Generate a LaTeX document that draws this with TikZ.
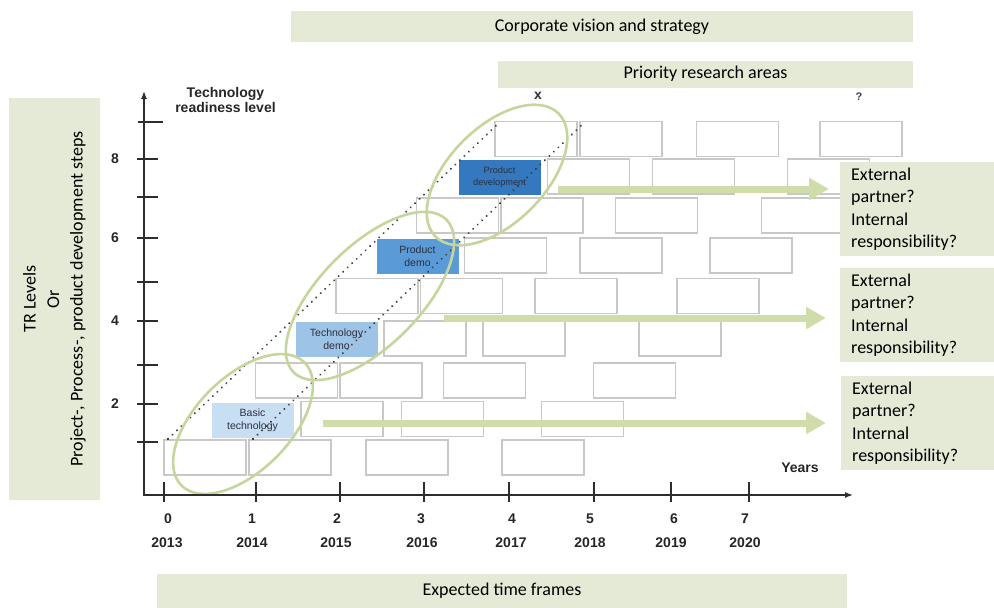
\documentclass[tikz,border=0pt]{standalone}
\usepackage{fontspec}
\setmainfont{Carlito}
\newfontfamily\arialf{Liberation Sans}
\usetikzlibrary{arrows.meta}
\definecolor{bannerc}{RGB}{228,234,214}
\definecolor{garrow}{RGB}{207,221,170}
\definecolor{gell}{RGB}{196,214,155}
\definecolor{boxline}{RGB}{200,200,200}
\definecolor{btc}{RGB}{200,222,243}
\definecolor{tdc}{RGB}{157,195,230}
\definecolor{pdmc}{RGB}{90,154,214}
\definecolor{pdvc}{RGB}{52,120,192}
\definecolor{axisc}{RGB}{45,45,45}
\definecolor{dotc}{RGB}{60,60,60}
\definecolor{btext}{RGB}{45,48,60}
\begin{document}
\begin{tikzpicture}[x=1pt,y=-1pt,
  gbox/.style={draw=boxline, line width=1.2pt, fill=white, minimum width=82pt, minimum height=35pt, inner sep=0pt},
  bbox/.style={minimum width=82pt, minimum height=35pt, inner sep=0pt, font=\arialf\fontsize{10.5}{13}\selectfont, text=btext, align=center},
  bannerbox/.style={fill=bannerc, inner sep=0pt, font=\fontsize{18}{22}\selectfont},
  sidepanel/.style={fill=bannerc, anchor=north west, minimum width=154pt, minimum height=94pt, inner xsep=11pt, inner ysep=0pt, text width=132pt, align=left, font=\fontsize{18}{22.3}\selectfont},
  dotline/.style={dotc, line width=2.2pt, line cap=round, dash pattern=on 0.01pt off 6.2pt},
  ell/.style={draw=gell, line width=2.6pt},
  garr/.style={garrow, line width=7pt, -{Triangle[length=20pt,width=21pt]}},
  axisline/.style={axisc, line width=1.4pt},
  tickline/.style={axisc, line width=1.4pt},
  axlab/.style={font=\arialf\bfseries\fontsize{14}{15}\selectfont, text=black!85},
  ]
\useasboundingbox (0,0) rectangle (994,608);

% grey boxes
\foreach \n/\cx/\cy in {
  a1/536/139, a2/621/139, a3/737.5/139, a4/861/139,
  b2/588.5/176.5, b3/693.5/176.5, b4/828.5/176.5,
  c1/457.5/215.5, c2/542/215.5, c3/656.5/215.5, c4/802.5/215.5,
  d2/505.5/255.5, d3/621/255.5, d4/751/255.5,
  e1/377/296, e2/461.5/296, e3/576/296, e4/718/296,
  f2/425/338.5, f3/524/338.5, f4/680/338.5,
  g1/296.5/380.5, g2/381/380.5, g3/484.5/380.5, g4/634.5/380.5,
  h2/342/419, h3/442.5/419, h4/582.5/419,
  i1/205/457.5, i2/290/457.5, i3/407/457.5, i4/543/457.5}
  \node[gbox] (\n) at (\cx,\cy) {};

% coloured step boxes
\node[bbox, fill=btc] (basic) at (252.5,420) {Basic\\technology};
\node[bbox, fill=tdc] (tdemo) at (336.5,339.5) {Technology\\demo};
\node[bbox, fill=pdmc] (pdemo) at (417.5,256.5) {Product\\demo};
\node[bbox, fill=pdvc, font=\arialf\fontsize{9.2}{12}\selectfont] (pdev) at (499.5,177) {Product\\development};

% dotted guide lines
\coordinate (d1s) at (168,439);
\coordinate (d1e) at (500,122);
\coordinate (d2s) at (253,439);
\coordinate (d2e) at (585,122);
\draw[dotline] (d1s) -- (d1e);
\draw[dotline] (d2s) -- (d2e);

% ellipses
\coordinate (e1c) at (243,424);
\coordinate (e2c) at (370,296);
\coordinate (e3c) at (497,175);
\draw[ell, rotate around={45:(e1c)}] (e1c) ellipse [x radius=87pt, y radius=47pt];
\draw[ell, rotate around={45:(e2c)}] (e2c) ellipse [x radius=108pt, y radius=50pt];
\draw[ell, rotate around={45:(e3c)}] (e3c) ellipse [x radius=87pt, y radius=48pt];

% green arrows
\coordinate (a1s) at (558,189);
\coordinate (a1e) at (829,189);
\coordinate (a2s) at (444,318);
\coordinate (a2e) at (826,318);
\coordinate (a3s) at (323,423);
\coordinate (a3e) at (826,423);
\draw[garr] (a1s) -- (a1e);
\draw[garr] (a2s) -- (a2e);
\draw[garr] (a3s) -- (a3e);

% banners
\node[bannerbox, minimum width=622pt, minimum height=31pt] (corp) at (602,26.5) {Corporate vision and strategy};
\node[bannerbox, minimum width=415pt, minimum height=27pt] (prio) at (705.5,74) {Priority research areas};
\node[bannerbox, minimum width=690pt, minimum height=35pt] (etf) at (502,591) {Expected time frames};
\node[bannerbox, minimum width=91pt, minimum height=402pt] (leftp) at (54.5,299) {};
\node[rotate=90, align=center, font=\fontsize{18}{23.5}\selectfont] (lefttxt) at (leftp.center) {TR Levels\\Or\\Project-, Process-, product development steps};

% side panels
\node[sidepanel] (p1) at (840,162) {External\\partner?\\Internal\\responsibility?};
\node[sidepanel] (p2) at (840,268) {External\\partner?\\Internal\\responsibility?};
\node[sidepanel] (p3) at (841,376) {External\\partner?\\Internal\\responsibility?};

% axes
\coordinate (yb) at (144,496);
\coordinate (yt) at (144,91);
\coordinate (xl) at (144,495);
\coordinate (xr) at (853,495);
\draw[axisline, -{Latex[length=8pt,width=6pt]}] (yb) -- (yt);
\draw[axisline, -{Latex[length=8pt,width=6pt]}] (xl) -- (xr);
\draw[tickline] (138,122) -- (163,122);
\foreach \ty in {159,197,238,282,321,365,404,442}
  \draw[tickline] (137,\ty) -- (158,\ty);
\foreach \tx in {164,256,340,424,509,594,671,749}
  \draw[tickline] (\tx,482) -- (\tx,502);

% axis labels
\node[axlab, align=center] (trl) at (225.5,99.5) {Technology\\readiness level};
\node[axlab] (yrs) at (800,468) {Years};
\foreach \lab/\ly in {8/159,6/238,4/321,2/404}
  \node[axlab] at (115,\ly) {\lab};
\foreach \lab/\lx/\yr/\yx in {0/168/2013/167,1/252/2014/252,2/337/2015/336,3/421/2016/422,4/512/2017/511,5/590/2018/590,6/674/2019/671,7/745/2020/745}{
  \node[axlab] at (\lx,518.5) {\lab};
  \node[axlab] at (\yx,543) {\yr};
}
\node[font=\arialf\bfseries\fontsize{14}{16}\selectfont, text=black!80] (xmark) at (538,96) {x};
\node[font=\arialf\bfseries\fontsize{11}{13}\selectfont, text=black!75] (qmark) at (859,97) {?};
\end{tikzpicture}
\end{document}
